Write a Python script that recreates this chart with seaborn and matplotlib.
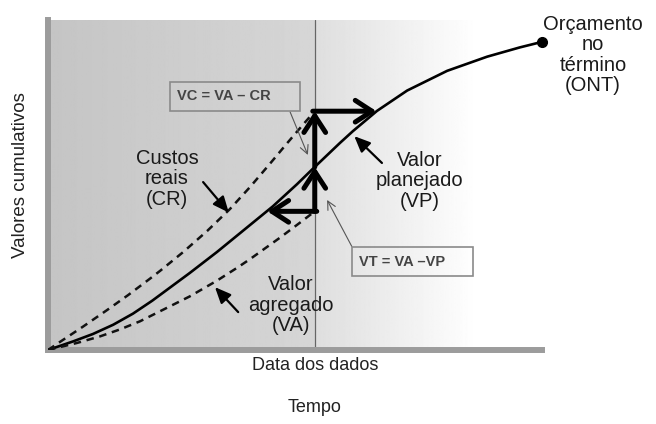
import numpy as np
import matplotlib
matplotlib.use("Agg")
import matplotlib.pyplot as plt
from matplotlib.patches import Rectangle
import seaborn as sns

# ── data (time 0-100, cumulative value 0-100) ──
vp_time  = [0, 5.1, 9.1, 13.2, 17.2, 21.1, 28.7, 34.2, 39.7, 45.5, 50.4, 53.6,
            59.1, 61.7, 66.6, 72.7, 80.8, 88.9, 95.5, 100]
vp_value = [0, 2.8, 5.2, 8.2, 11.8, 16.0, 25.0, 31.8, 39.0, 46.6, 53.8, 58.8,
            67.2, 71.0, 77.6, 84.2, 90.6, 95.2, 98.2, 100]

cr_time  = [0, 2.4, 7.1, 11.9, 16.2, 20.6, 22.7, 27.3, 32.2, 36.8, 40.9, 44.9,
            48.4, 51.6, 54.0]
cr_value = [0, 2.6, 7.6, 12.9, 17.8, 23.1, 25.7, 31.7, 38.6, 45.7, 52.9, 60.4,
            67.1, 73.1, 77.5]

va_time  = [0, 5.9, 10.5, 14.6, 18.6, 28.7, 34.2, 38.3, 40.9, 47.0, 51.4, 54.0]
va_value = [0, 2.3, 4.4, 6.7, 9.3, 17.4, 22.5, 26.7, 29.5, 36.5, 41.8, 45.0]

data_date = 54.0
vp_at_date = 59.4     # VP where it crosses the data date
es_time = 44.4        # time when VP reached VA
vp_eq_cr_time = 66.5  # time when VP reached CR

sns.set_theme(style="white")
plt.rcParams["font.family"] = ["Liberation Sans", "DejaVu Sans"]

fig = plt.figure(figsize=(6.56, 4.24), dpi=100)
ax = fig.add_axes([48 / 656, 1 - 350 / 424, 494 / 656, 330 / 424])
ymax = 107.1

# background shading: darker before the data date, fading to white after
cols = np.linspace(0, 100, 500)
shade = np.where(cols < data_date,
                 0.77 + 0.07 * cols / data_date,
                 np.clip(0.87 + 0.13 * (cols - data_date) / (87 - data_date), 0, 1))
ax.imshow(shade[None, :], cmap="gray", vmin=0, vmax=1, aspect="auto",
          extent=[0, 100, 0, ymax], zorder=0)

ax.axvline(data_date, color="#666666", lw=0.9, zorder=1)

# curves
sns.lineplot(x=vp_time, y=vp_value, ax=ax, color="black", lw=1.9,
             sort=False, estimator=None, zorder=3)
sns.lineplot(x=cr_time, y=cr_value, ax=ax, color="#111111", lw=1.8,
             linestyle=(0, (3, 2.3)), sort=False, estimator=None, zorder=3)
sns.lineplot(x=va_time, y=va_value, ax=ax, color="#111111", lw=1.8,
             linestyle=(0, (3, 2.3)), sort=False, estimator=None, zorder=3)
ax.plot(vp_time[-1], vp_value[-1], "o", color="black", ms=7, zorder=4, clip_on=False)

# thick variance arrows
thick = dict(arrowstyle="->,head_length=1.0,head_width=0.65", lw=3.6,
             color="black", shrinkA=0, shrinkB=0)
ax.annotate("", xy=(data_date, vp_at_date), xytext=(data_date, va_value[-1]), arrowprops=thick, zorder=5)
ax.annotate("", xy=(data_date, cr_value[-1]), xytext=(data_date, vp_at_date), arrowprops=thick, zorder=5)
ax.annotate("", xy=(vp_eq_cr_time, cr_value[-1]), xytext=(data_date - 0.4, cr_value[-1]), arrowprops=thick, zorder=5)
ax.annotate("", xy=(es_time, va_value[-1]), xytext=(data_date + 0.4, va_value[-1]), arrowprops=thick, zorder=5)

# curve labels with pointer arrows
lab = dict(fontsize=14.5, color="#1a1a1a", ha="center", va="center", linespacing=1.1)
ptr = dict(arrowstyle="-|>,head_length=0.8,head_width=0.35", lw=1.6, color="black",
           shrinkA=0, shrinkB=0)
ax.text(110.3, 95.8, "Orçamento\nno\ntérmino\n(ONT)", **lab)
ax.text(75.3, 54.9, "Valor\nplanejado\n(VP)", **lab)
ax.text(24.1, 55.5, "Custos\nreais\n(CR)", **lab)
ax.text(49.2, 14.6, "Valor\nagregado\n(VA)", **lab)
ax.annotate("", xy=(62.0, 69.4), xytext=(67.6, 60.7), arrowprops=ptr)
ax.annotate("", xy=(36.6, 44.6), xytext=(31.4, 54.5), arrowprops=ptr)
ax.annotate("", xy=(33.8, 20.4), xytext=(38.5, 12.3), arrowprops=ptr)

# formula boxes
thin = dict(arrowstyle="->,head_length=0.5,head_width=0.25", lw=0.8, color="#555555",
            shrinkA=0, shrinkB=0)
ax.add_patch(Rectangle((24.7, 77.6), 26.3, 9.4, fill=False, ec="#8a8a8a", lw=1.2, zorder=4))
ax.text(26.1, 82.3, "VC = VA – CR", fontsize=10.5, fontweight="bold", color="#444444",
        ha="left", va="center", zorder=4)
ax.annotate("", xy=(52.6, 63.3), xytext=(49.0, 77.3), arrowprops=thin)

ax.add_patch(Rectangle((61.5, 24.0), 24.5, 9.4, fill=False, ec="#8a8a8a", lw=1.2, zorder=4))
ax.text(63.0, 28.6, "VT = VA –VP", fontsize=10.5, fontweight="bold", color="#444444",
        ha="left", va="center", zorder=4)
ax.annotate("", xy=(56.5, 48.7), xytext=(61.5, 33.6), arrowprops=thin)

# axes styling
ax.set_xlim(0, 100)
ax.set_ylim(0, ymax)
ax.set_xticks([data_date], ["Data dos dados"], fontsize=13)
ax.set_yticks([])
ax.tick_params(axis="x", length=0, pad=5, colors="#222222")
for s in ("top", "right"):
    ax.spines[s].set_visible(False)
for s in ("left", "bottom"):
    ax.spines[s].set_color("#9c9c9c")
    ax.spines[s].set_linewidth(4.3)
ax.set_xlabel("Tempo", fontsize=13, color="#222222")
ax.xaxis.set_label_coords((315 - 48) / 494, -0.15)
ax.set_ylabel("Valores cumulativos", fontsize=13.5, color="#222222")
ax.yaxis.set_label_coords(-0.038, 0.53)

fig.savefig("out.png", dpi=100)
